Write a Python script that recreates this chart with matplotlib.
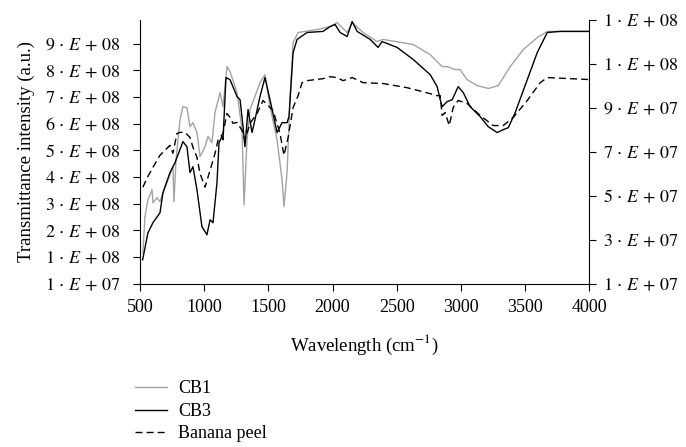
import numpy as np
import matplotlib as mpl
mpl.use('Agg')
import matplotlib.pyplot as plt
from matplotlib.ticker import FuncFormatter

plt.rcParams['font.family'] = ['Liberation Serif', 'DejaVu Serif']
plt.rcParams['mathtext.fontset'] = 'stix'
plt.rcParams['font.size'] = 13

# wavenumber (cm-1) and intensity
cb1_x = [523, 539, 562, 594, 601, 633, 656, 679, 718, 757, 765, 781, 812, 835, 866,
         890, 913, 944, 968, 1007, 1030, 1061, 1085, 1124, 1147, 1178, 1202, 1256,
         1295, 1311, 1334, 1357, 1396, 1435, 1474, 1513, 1568, 1607, 1622, 1646, 1669,
         1693, 1732, 1880, 1981, 2036, 2114, 2153, 2238, 2347, 2394, 2628, 2761, 2854,
         2893, 2955, 2994, 3049, 3127, 3213, 3291, 3384, 3486, 3595, 3673, 3774, 4000]
cb1_y = [1.26, 2.61, 3.25, 3.63, 3.14, 3.33, 3.18, 3.51, 4.00, 4.49, 3.18, 4.75, 6.25,
         6.74, 6.70, 5.99, 6.14, 5.77, 4.87, 5.24, 5.62, 5.39, 6.52, 7.27, 6.74, 8.24,
         8.05, 7.27, 5.88, 3.06, 5.50, 6.63, 7.12, 7.64, 7.94, 6.74, 5.50, 4.00, 2.99,
         4.27, 7.00, 9.14, 9.52, 9.63, 9.74, 9.89, 9.52, 9.89, 9.52, 9.18, 9.26, 9.07,
         8.69, 8.24, 8.24, 8.13, 8.13, 7.75, 7.53, 7.42, 7.53, 8.24, 8.88, 9.33, 9.56,
         9.56, 9.56]

cb3_x = [521, 562, 601, 656, 679, 734, 773, 835, 866, 890, 913, 944, 983, 1022, 1046,
         1069, 1100, 1116, 1139, 1147, 1170, 1202, 1256, 1280, 1303, 1318, 1342, 1373,
         1396, 1435, 1474, 1513, 1568, 1607, 1646, 1661, 1693, 1724, 1802, 1926, 1981,
         2020, 2059, 2114, 2153, 2192, 2293, 2355, 2386, 2503, 2628, 2761, 2815, 2839,
         2854, 2893, 2932, 2979, 3018, 3072, 3150, 3213, 3283, 3330, 3369, 3423, 3517,
         3595, 3673, 3774, 4000]
cb3_y = [1.00, 2.01, 2.39, 2.76, 3.51, 4.27, 4.64, 5.43, 5.24, 4.27, 4.49, 3.63, 2.24,
         1.94, 2.50, 2.39, 3.89, 5.39, 5.62, 5.50, 7.83, 7.75, 7.12, 7.00, 5.99, 5.24,
         6.63, 5.77, 6.25, 7.12, 7.83, 7.00, 5.77, 6.14, 6.14, 6.37, 8.77, 9.26, 9.52,
         9.56, 9.74, 9.82, 9.52, 9.37, 9.93, 9.56, 9.26, 8.96, 9.18, 8.96, 8.51, 7.94,
         7.49, 7.00, 6.74, 6.93, 7.00, 7.49, 7.27, 6.74, 6.37, 5.99, 5.77, 5.88, 5.95,
         6.52, 7.75, 8.77, 9.52, 9.56, 9.56]

peel_x = [523, 555, 601, 656, 734, 757, 788, 812, 851, 890, 913, 944, 968, 1007, 1046,
          1085, 1108, 1147, 1178, 1202, 1225, 1256, 1295, 1318, 1357, 1412, 1459, 1498,
          1537, 1591, 1622, 1654, 1693, 1732, 1763, 1802, 1926, 1981, 2036, 2082, 2153,
          2238, 2394, 2581, 2761, 2800, 2839, 2854, 2878, 2909, 2940, 2979, 3049, 3150,
          3252, 3330, 3408, 3517, 3618, 3673, 4000]
peel_y = [5.39, 5.80, 6.29, 6.84, 7.29, 6.93, 7.83, 7.88, 7.88, 7.65, 7.20, 6.75, 6.02,
          5.39, 6.16, 6.93, 7.52, 7.83, 8.74, 8.56, 8.29, 8.33, 7.97, 7.52, 8.29, 8.74,
          9.33, 9.10, 8.87, 7.83, 6.84, 7.65, 9.01, 9.55, 10.14, 10.23, 10.32, 10.41,
          10.37, 10.23, 10.37, 10.14, 10.10, 9.91, 9.64, 9.55, 9.55, 8.65, 8.78, 8.19,
          9.01, 9.33, 9.19, 8.65, 8.19, 8.19, 8.56, 9.33, 10.14, 10.37, 10.28]

left_ticks = [1e7 + i * 1e8 for i in range(10)]
right_ticks = [1e7 + i * 2e7 for i in range(7)]


def sci_label(v, pos=None):
    e = int(np.floor(np.log10(v)))
    m = int(round(v / 10 ** e))
    return r'$%d\,\cdot\,E\,+\,%02d$' % (m, e)


fig = plt.figure(figsize=(6.86, 4.47), dpi=100)
ax = fig.add_axes([0.204, 0.365, 0.655, 0.591])
ax2 = ax.twinx()

l1, = ax.plot(cb1_x, np.array(cb1_y) * 1e8, color='#a3a3a3', lw=1.0, label='CB1')
l2, = ax.plot(cb3_x, np.array(cb3_y) * 1e8, color='black', lw=1.0, label='CB3')
l3, = ax2.plot(peel_x, np.array(peel_y) * 1e7, color='black', lw=1.0,
               ls=(0, (5, 3)), label='Banana peel')

ax.set_xlim(500, 4000)
ax.set_ylim(1e7, 1e9)
ax2.set_ylim(1e7, 1.3e8)
ax.set_xticks(range(500, 4001, 500))
ax.set_yticks(left_ticks)
ax2.set_yticks(right_ticks)
ax.yaxis.set_major_formatter(FuncFormatter(sci_label))
ax2.yaxis.set_major_formatter(FuncFormatter(sci_label))

for a in (ax, ax2):
    a.spines['top'].set_visible(False)
    a.tick_params(direction='out', length=5, width=0.8, labelsize=13, pad=5)
ax.tick_params(axis='x', pad=6)
ax.tick_params(axis='y', pad=9)
ax.spines['right'].set_visible(False)
ax2.spines['left'].set_visible(False)
ax2.spines['bottom'].set_visible(False)

ax.set_xlabel(r'Wavelength (cm$^{-1}$)', fontsize=13.5, labelpad=12)
ax.set_ylabel('Transmittance intensity (a.u.)', fontsize=13.5, labelpad=7)

fig.legend(handles=[l1, l2, l3], loc='upper left', bbox_to_anchor=(0.186, 0.165),
           frameon=False, fontsize=13, handlelength=1.8, handletextpad=0.6,
           labelspacing=0.3, borderaxespad=0)

fig.savefig('out.png', dpi=100)
print('Saved: "out.png"')
